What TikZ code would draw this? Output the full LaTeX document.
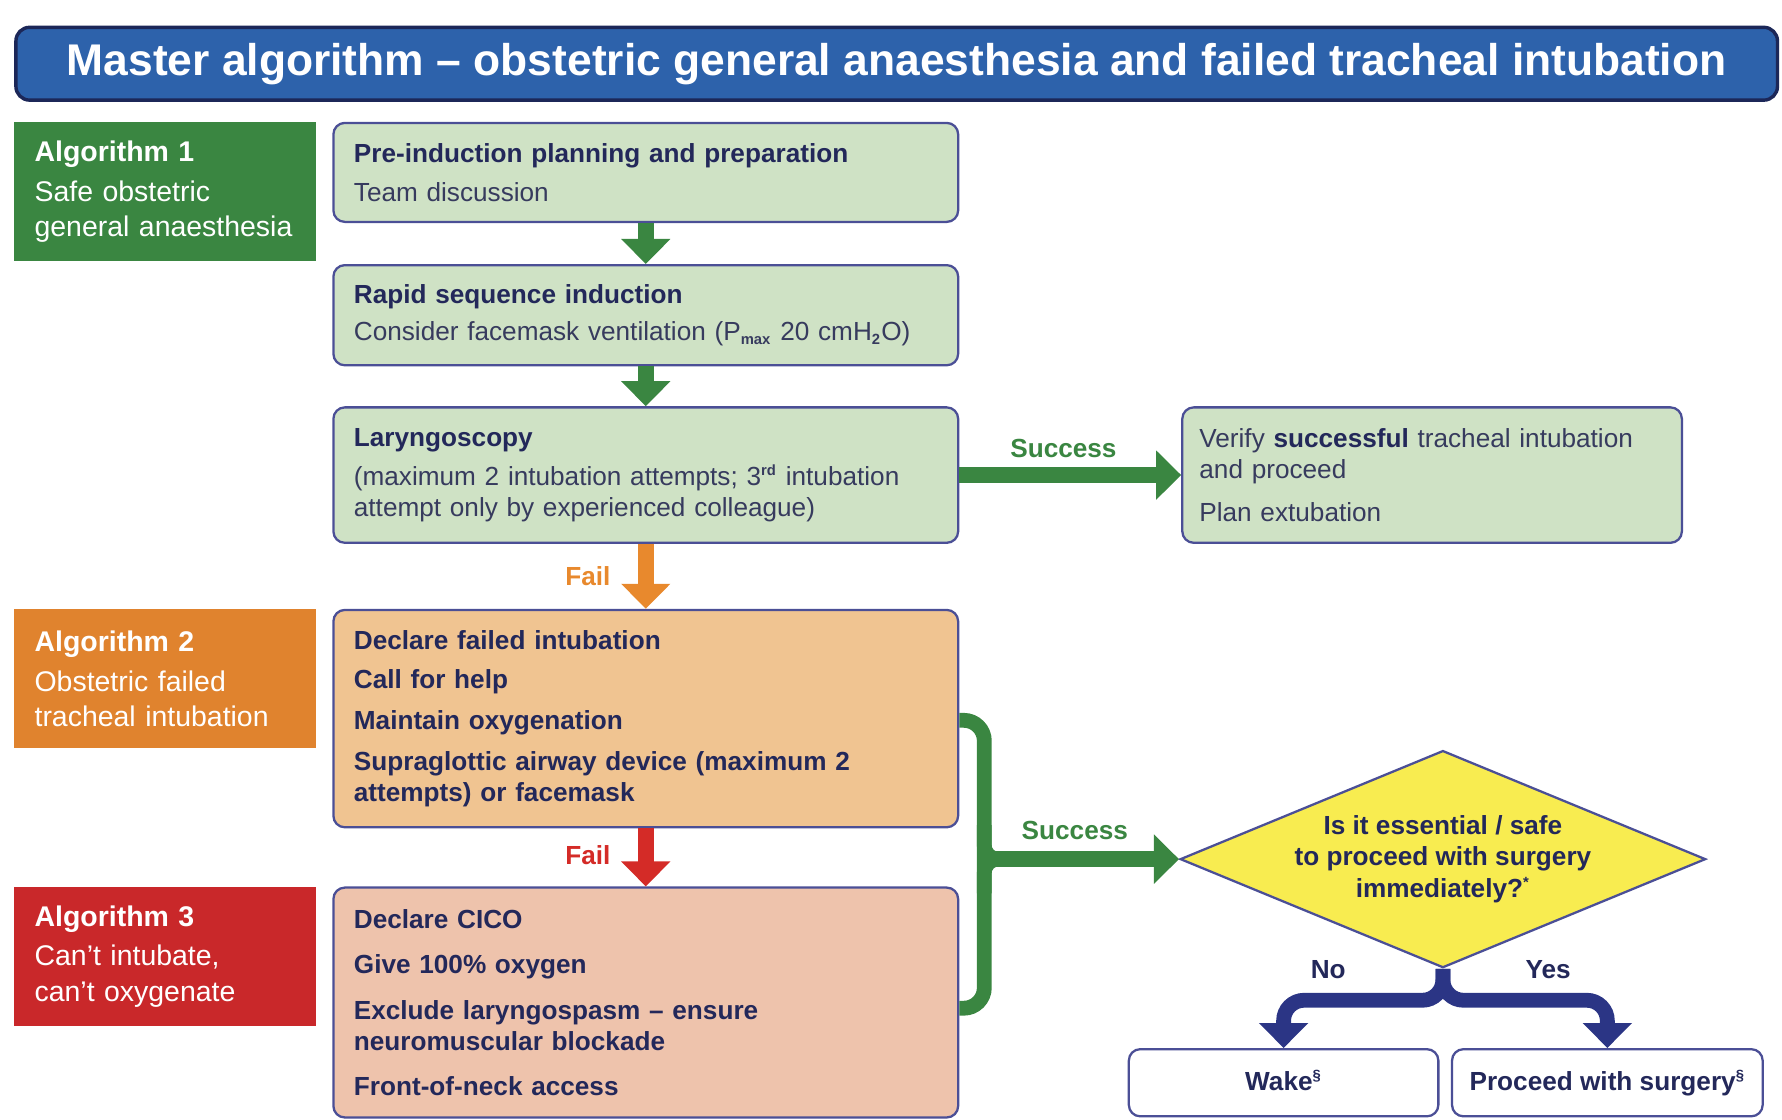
\documentclass[tikz,border=0pt]{standalone}
\usepackage{fontspec}
\setmainfont{Liberation Sans}
\usetikzlibrary{arrows.meta,shapes.geometric,positioning}

\definecolor{titleblue}{HTML}{2D62AB}
\definecolor{titleline}{HTML}{1C2758}
\definecolor{algone}{HTML}{3A8641}
\definecolor{algtwo}{HTML}{E0832E}
\definecolor{algthree}{HTML}{C9282A}
\definecolor{boxgreen}{HTML}{CFE2C5}
\definecolor{boxorange}{HTML}{F0C491}
\definecolor{boxpink}{HTML}{EEC3AC}
\definecolor{boxline}{HTML}{4B4F96}
\definecolor{navytext}{HTML}{23285A}
\definecolor{greytext}{HTML}{373B5E}
\definecolor{diayellow}{HTML}{F8EC50}
\definecolor{flowgreen}{HTML}{3A8641}
\definecolor{floworange}{HTML}{E8892D}
\definecolor{flowred}{HTML}{D42B27}
\definecolor{flownavy}{HTML}{2B3585}

\newcommand\bodysize{\fontsize{11.5}{13.5}\selectfont}
\newcommand\algsize{\fontsize{12.5}{15.5}\selectfont}
\newcommand\tinysub[1]{\textsubscript{\fontsize{6.5}{7}\selectfont\bfseries #1}}
\newcommand\tinysup[1]{\textsuperscript{\fontsize{6.5}{7}\selectfont\bfseries #1}}

\tikzset{
  stepbox/.style={draw=boxline, line width=1pt, rounded corners=5pt,
    anchor=north west, align=left, inner xsep=9pt, inner ysep=3pt,
    text width=256.5pt, minimum width=274.5pt, text=greytext, font=\bodysize},
  algbox/.style={anchor=north west, align=left, inner xsep=9pt,
    text width=114.5pt, minimum width=132.5pt, minimum height=61pt,
    text=white, font=\algsize},
  endbox/.style={draw=boxline, line width=1pt, rounded corners=5pt,
    fill=white, anchor=north west, minimum height=29.5pt,
    text height=9pt, text depth=2.5pt,
    text=navytext, font=\bodysize\bfseries},
  decision/.style={diamond, draw=boxline, line width=1pt, fill=diayellow,
    shape aspect=2.42, inner sep=1pt, minimum width=230pt,
    minimum height=95pt, align=center, text=navytext,
    font=\fontsize{11.5}{14}\selectfont\bfseries},
  flow/.style={line width=7pt, -{Triangle[width=21pt,length=11pt]}},
  flowlabel/.style={font=\bodysize\bfseries, inner sep=1pt}
}

\begin{document}
\begin{tikzpicture}[x=0.5pt,y=-0.5pt]
\useasboundingbox (0,0) rectangle (1566,984);
% title
\node[draw=titleline, line width=1.5pt, fill=titleblue, rounded corners=6pt,
  minimum width=774pt, minimum height=32pt, text=white,
  font=\fontsize{19.5}{23}\selectfont\bfseries] (title) at (788,56)
  {Master algorithm – obstetric general anaesthesia and failed tracheal intubation};
% algorithm labels
\node[algbox, fill=algone] (algA) at (12,107)
  {\textbf{Algorithm 1}\\[2pt] Safe obstetric\\ general anaesthesia};
\node[algbox, fill=algtwo] (algB) at (12,535)
  {\textbf{Algorithm 2}\\[2pt] Obstetric failed\\ tracheal intubation};
\node[algbox, fill=algthree] (algC) at (12,779)
  {\textbf{Algorithm 3}\\[2pt] Can’t intubate,\\ can’t oxygenate};
% steps
\node[stepbox, fill=boxgreen, minimum height=43.5pt] (plan) at (292,107)
  {\textcolor{navytext}{\textbf{Pre-induction planning and preparation}}\\[3.5pt] Team discussion};
\node[stepbox, fill=boxgreen, minimum height=44pt] (rsi) at (292,232)
  {\textcolor{navytext}{\textbf{Rapid sequence induction}}\\[3pt]
   Consider facemask ventilation (P\tinysub{max} 20 cmH\tinysub{2}O)};
\node[stepbox, fill=boxgreen, minimum height=59.5pt] (laryn) at (292,357)
  {\textcolor{navytext}{\textbf{Laryngoscopy}}\\[3.5pt]
   (maximum 2 intubation attempts; 3\tinysup{rd} intubation\\
   attempt only by experienced colleague)};
\node[stepbox, fill=boxgreen, minimum height=59.5pt, inner xsep=7.5pt,
  text width=204.5pt, minimum width=219.5pt] (verify) at (1038,357)
  {Verify \textcolor{navytext}{\textbf{successful}} tracheal intubation\\ and proceed\\[5.5pt] Plan extubation};
\node[stepbox, fill=boxorange, minimum height=95.5pt, text=navytext,
  font=\bodysize\bfseries] (failed) at (292,535)
  {Declare failed intubation\\[4pt] Call for help\\[4.5pt] Maintain oxygenation\\[4.5pt]
   Supraglottic airway device (maximum 2\\ attempts) or facemask};
\node[stepbox, fill=boxpink, minimum height=101pt, text=navytext,
  font=\bodysize\bfseries] (cico) at (292,779)
  {Declare CICO\\[6.5pt] Give 100\% oxygen\\[6.5pt] Exclude laryngospasm – ensure\\
   neuromuscular blockade\\[6.5pt] Front-of-neck access};
% decision
\node[decision] (essential) at (1268,755)
  {Is it essential / safe\\ to proceed with surgery\\ immediately?\tinysup{*}};
\node[endbox, minimum width=136pt] (wake) at (991,921) {Wake\tinysup{§}};
\node[endbox, minimum width=136.5pt] (proceed) at (1275,921) {Proceed with surgery\tinysup{§}};
% arrows
\draw[flow, flowgreen] (plan) -- (rsi);
\draw[flow, flowgreen] (rsi) -- (laryn);
\draw[flow, flowgreen] (laryn) -- node[flowlabel, above=3pt, xshift=-3pt, text=flowgreen] {Success} (verify);
\draw[flow, floworange] (laryn) -- node[flowlabel, left=11pt, text=floworange] {Fail} (failed);
\draw[flow, flowred] (failed) -- node[flowlabel, left=11pt, yshift=1pt, text=flowred] {Fail} (cico);
% success bracket
\coordinate (join) at (865,755);
\draw[flowgreen, line width=6.5pt, rounded corners=9pt]
  (failed.east |- 0,633) -- (865,633) -- (865,886) -- (cico.east |- 0,886);
\draw[flowgreen, line width=6.5pt, rounded corners=6pt] (865,725) -- (join) -- (900,755);
\draw[flowgreen, line width=6.5pt, rounded corners=6pt] (865,785) -- (join) -- (900,755);
\draw[flow, flowgreen] (join) -- node[flowlabel, above=4pt, xshift=-3pt, text=flowgreen] {Success} (essential.west);
% fork
\coordinate (fork) at (1268,879);
\draw[flow, flownavy, line width=6.5pt, rounded corners=9pt] (essential.south) -- (fork)
  -| node[flowlabel, pos=0.36, above=5pt, text=navytext] {No} (wake.north);
\draw[flow, flownavy, line width=6.5pt, rounded corners=9pt] (essential.south) -- (fork)
  -| node[flowlabel, pos=0.32, above=5pt, text=navytext] {Yes} (proceed.north);
\end{tikzpicture}
\end{document}
